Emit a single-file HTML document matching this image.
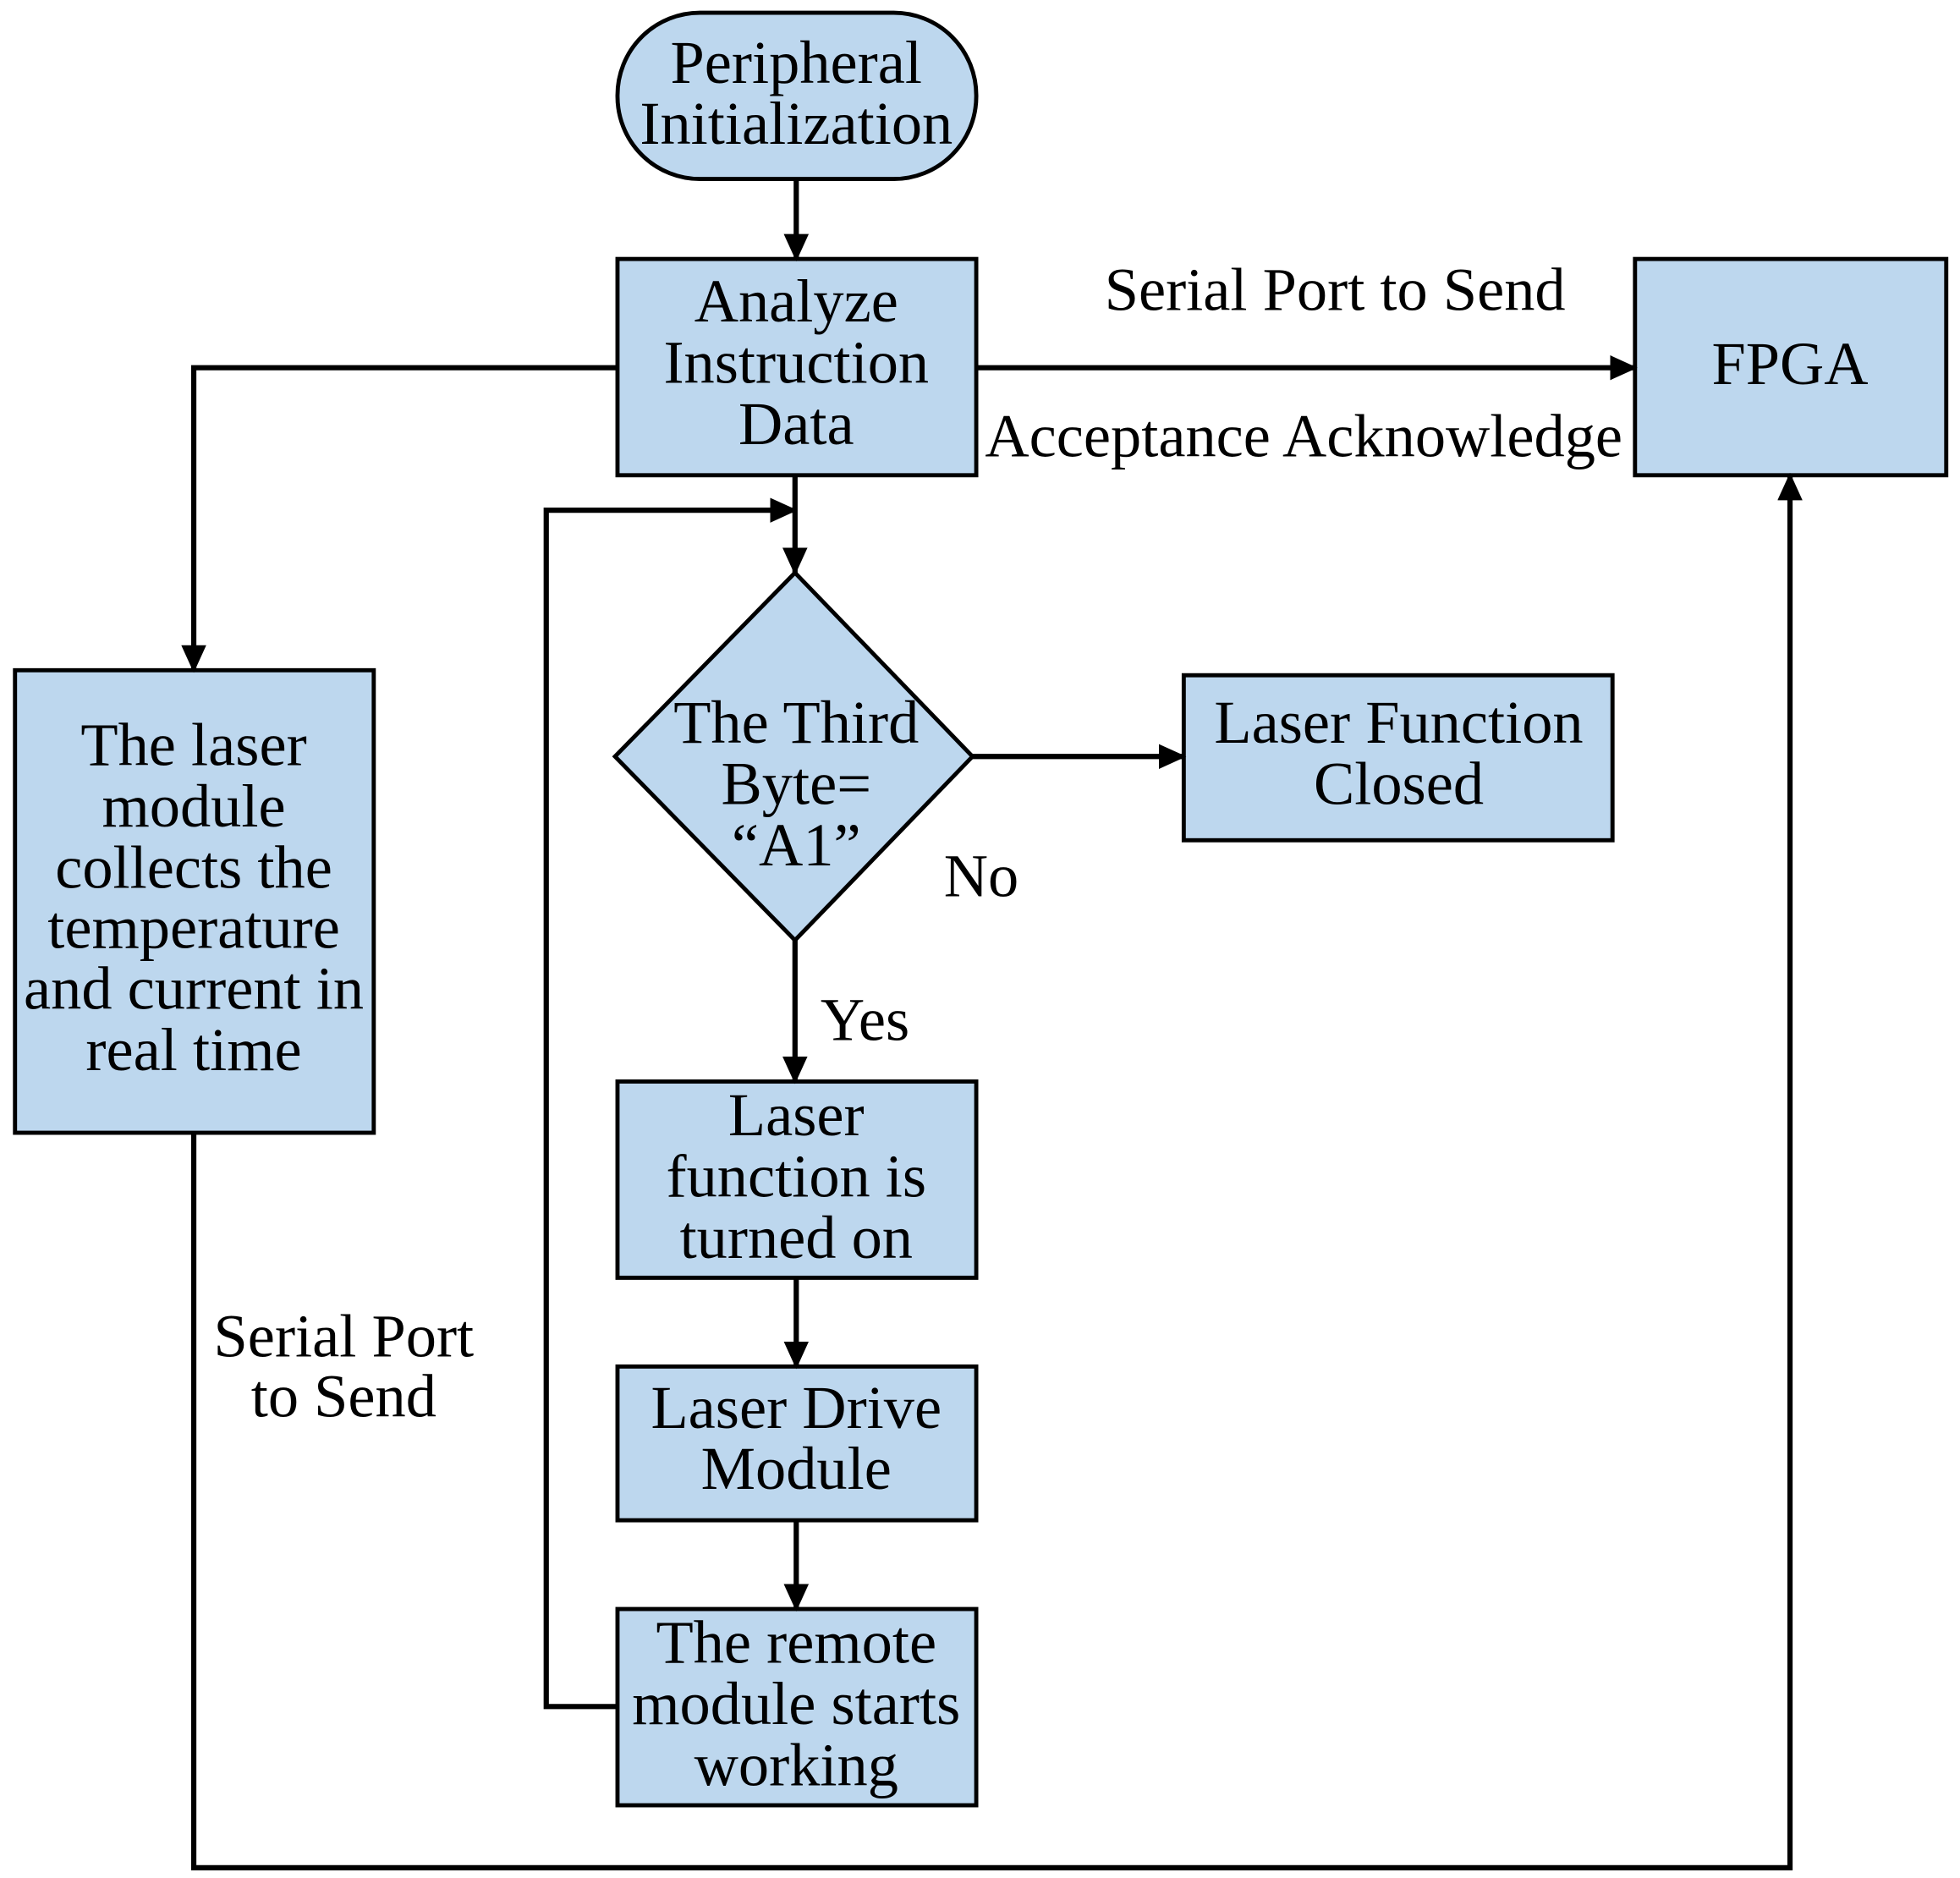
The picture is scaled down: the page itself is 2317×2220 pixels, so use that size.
<!DOCTYPE html>
<html><head><meta charset="utf-8"><style>
html,body{margin:0;padding:0;background:#fff;}
svg{display:block;}
text{font-family:"Liberation Serif",serif;font-size:49px;fill:#000;text-anchor:middle;}
</style></head><body>
<svg width="2317" height="2220" viewBox="0 0 1568 1502" xmlns="http://www.w3.org/2000/svg">
<defs>
<marker id="b" markerWidth="22" markerHeight="20" refX="20" refY="10" orient="auto" markerUnits="userSpaceOnUse" viewBox="0 0 22 20"><path d="M0,0 L22,10 L0,20 z" fill="#000"/></marker></defs>
<g fill="#BDD7EE" stroke="#000" stroke-width="3.3">
<rect x="494" y="10" width="287" height="133" rx="66" ry="66"/>
<rect x="494" y="207" width="287" height="173"/>
<rect x="1308" y="207" width="249" height="173"/>
<rect x="12" y="536" width="287" height="370"/>
<path d="M636,458 L778,605 L636,752 L492,605 Z"/>
<rect x="947" y="540" width="343" height="132"/>
<rect x="494" y="865" width="287" height="157"/>
<rect x="494" y="1093" width="287" height="123"/>
<rect x="494" y="1287" width="287" height="157"/>
</g>
<g fill="none" stroke="#000" stroke-width="4.2" marker-end="url(#b)">
<path d="M637,143 V207"/>
<path d="M781,294 H1308"/>
<path d="M494,294 H155 V536"/>
<path d="M636,380 V458"/>
<path d="M494,1365 H437 V408 H636"/>
<path d="M778,605 H947"/>
<path d="M636,752 V865"/>
<path d="M637,1022 V1093"/>
<path d="M637,1216 V1287"/>
<path d="M155,906 V1494 H1432 V380"/>
</g>
<text x="637" y="66">Peripheral</text>
<text x="637" y="115">Initialization</text>
<text x="637" y="257">Analyze</text>
<text x="637" y="306">Instruction</text>
<text x="637" y="355">Data</text>
<text x="1432" y="307">FPGA</text>
<text x="1068" y="248">Serial Port to Send</text>
<text x="1043" y="365">Acceptance Acknowledge</text>
<text x="155" y="612">The laser</text>
<text x="155" y="661">module</text>
<text x="155" y="710">collects the</text>
<text x="155" y="758">temperature</text>
<text x="155" y="807">and current in</text>
<text x="155" y="856">real time</text>
<text x="637" y="594">The Third</text>
<text x="637" y="643">Byte=</text>
<text x="637" y="692">“A1”</text>
<text x="1119" y="594">Laser Function</text>
<text x="1119" y="643">Closed</text>
<text x="785" y="717">No</text>
<text x="692" y="832">Yes</text>
<text x="637" y="908">Laser</text>
<text x="637" y="957">function is</text>
<text x="637" y="1006">turned on</text>
<text x="637" y="1142">Laser Drive</text>
<text x="637" y="1191">Module</text>
<text x="637" y="1330">The remote</text>
<text x="637" y="1379">module starts</text>
<text x="637" y="1428">working</text>
<text x="275" y="1085">Serial Port</text>
<text x="275" y="1133">to Send</text>
</svg>
</body></html>
